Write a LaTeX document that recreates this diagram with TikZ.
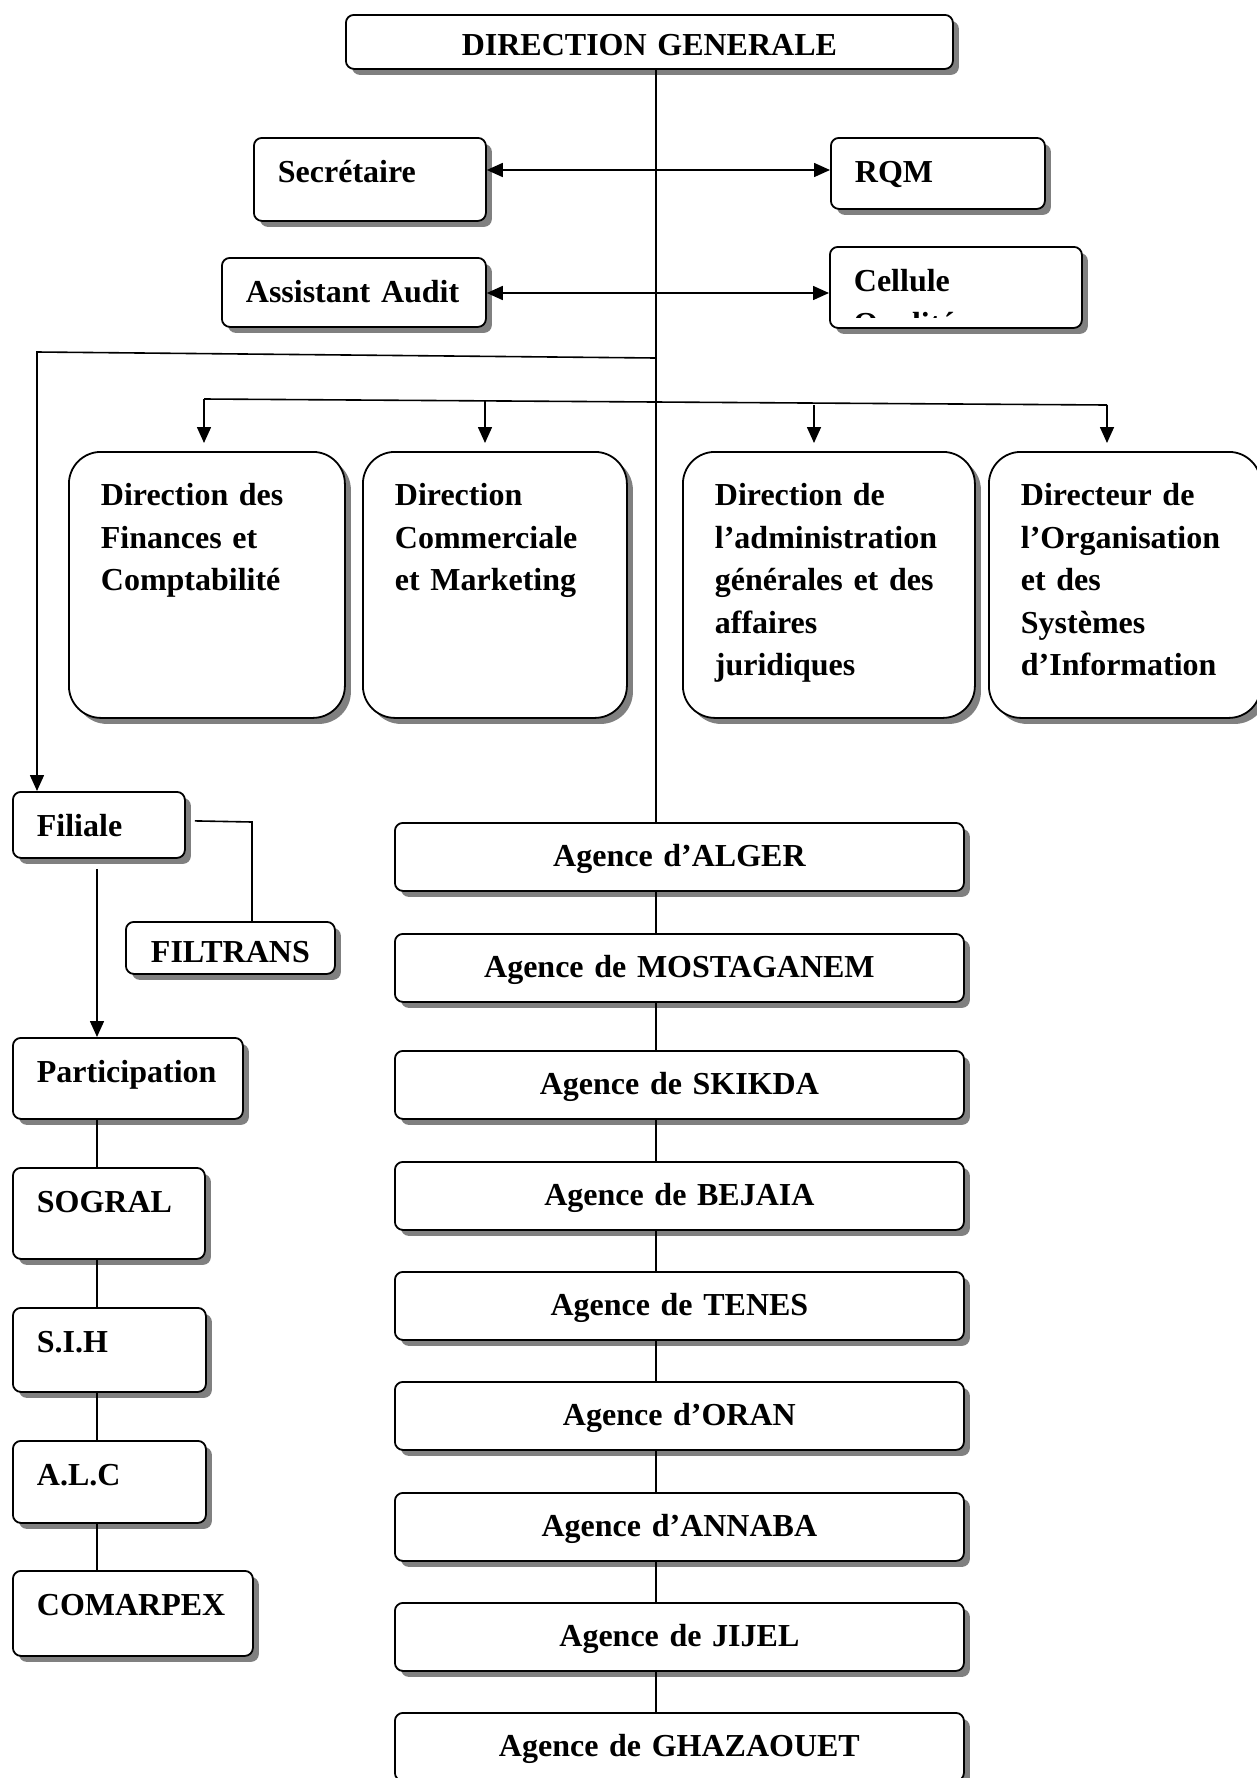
\documentclass[tikz,border=0pt]{standalone}
\usepackage{fontspec}
\setmainfont{Liberation Serif}
\usepackage{tikz}
\usetikzlibrary{arrows.meta, shadows}
\definecolor{ShadowGrey}{HTML}{808080}

\begin{document}
\begin{tikzpicture}[
        x=0.5pt, y=-0.5pt,
        orgbox/.style={draw, line width=0.9pt, rounded corners=4pt, fill=white, anchor=north west, font=\fontsize{16pt}{21.25pt}\selectfont\bfseries, align=left, inner xsep=12pt, inner ysep=0pt, text height=22.5pt, drop shadow={shadow xshift=3pt, shadow yshift=-3pt, fill=ShadowGrey, opacity=1}},
        titlebox/.style={orgbox, align=center, inner xsep=6pt, text height=20.5pt},
        agencebox/.style={titlebox, text width=272.5pt, text height=22pt, text depth=12pt},
        dirbox/.style={orgbox, rounded corners=16pt, inner xsep=16pt, text height=27pt, text depth=106pt},
        link/.style={line width=0.8pt},
        arr/.style={link, -{Triangle[length=8pt, width=7pt]}},
        biarr/.style={link, {Triangle[length=8pt, width=7pt]}-{Triangle[length=8pt, width=7pt]}}
    ]

    \useasboundingbox (0,0) rectangle (1257,1778);

    % direction
    \node[titlebox, text width=291.5pt, text depth=6.5pt] (dg) at (345,14) {DIRECTION GENERALE};

    \node[orgbox, text width=92pt, text depth=19pt] (sec) at (253,137) {Secrétaire};
    \node[orgbox, text width=83pt, text depth=13pt] (rqm) at (830,137) {RQM};
    \node[orgbox, text width=108pt, text depth=12pt] (aud) at (221,257) {Assistant Audit};
    \node[orgbox, text width=102pt, text depth=18pt] (cel) at (829,246) {Cellule};
    \begin{scope}
        \clip (cel.north west) rectangle ([yshift=5.5pt]cel.south east);
        \node[font=\fontsize{16pt}{21.25pt}\selectfont\bfseries, anchor=base west, inner sep=0pt] (celq) at ([xshift=12pt, yshift=-21.25pt]cel.base west) {Qualité};
    \end{scope}

    % directions
    \node[dirbox, text width=106pt] (fin) at (68,451) {Direction des\\Finances et\\Comptabilité};
    \node[dirbox, text width=100pt] (mkt) at (362,451) {Direction\\Commerciale\\et Marketing};
    \node[dirbox, text width=114pt] (adm) at (682,451) {Direction de\\l’administration\\générales et des\\affaires\\juridiques};
    \node[dirbox, text width=104pt] (org) at (988,451) {Directeur de\\l’Organisation\\et des\\Systèmes\\d’Information};

    % filiales et participations
    \node[orgbox, text width=62pt, text depth=10.5pt] (fil) at (12,791) {Filiale};
    \node[titlebox, text width=92.5pt, text depth=5.5pt] (ftr) at (125,921) {FILTRANS};
    \node[orgbox, text width=91pt, text depth=18pt] (par) at (12,1037) {Participation};
    \node[orgbox, text width=72pt, text depth=23pt] (sog) at (12,1167) {SOGRAL};
    \node[orgbox, text width=72.5pt, text depth=19.5pt] (sih) at (12,1307) {S.I.H};
    \node[orgbox, text width=72.5pt, text depth=18.5pt] (alc) at (12,1440) {A.L.C};
    \node[orgbox, text width=96pt, text depth=20pt] (cpx) at (12,1570) {COMARPEX};

    % agences
    \foreach \nm/\ytop/\txt in {alger/822/Agence d’ALGER, mosta/933/Agence de MOSTAGANEM, skikda/1050/Agence de SKIKDA, bejaia/1161/Agence de BEJAIA, tenes/1271/Agence de TENES, oran/1381/Agence d’ORAN, annaba/1492/Agence d’ANNABA, jijel/1602/Agence de JIJEL, ghaz/1712/Agence de GHAZAOUET}
        \node[agencebox] (\nm) at (394,\ytop) {\txt};

    % liaisons
    \coordinate (trunk) at (656,0);
    \coordinate (lcol) at (97,0);
    \draw[link] (trunk |- dg.south) -- (trunk |- alger.north);
    \foreach \a/\b in {alger/mosta, mosta/skikda, skikda/bejaia, bejaia/tenes, tenes/oran, oran/annaba, annaba/jijel, jijel/ghaz}
        \draw[link] (trunk |- \a.south) -- (trunk |- \b.north);

    \coordinate (secrow) at (656,170);
    \coordinate (audrow) at (656,293);
    \draw[biarr] (sec.east |- secrow) -- (rqm.west |- secrow);
    \draw[biarr] (aud.east |- audrow) -- (cel.west |- audrow);

    \coordinate (feed) at (656,358);
    \coordinate (feedcorner) at (37,352);
    \draw[arr] (feed) -- (feedcorner) -- (feedcorner |- fil.north);

    \coordinate (barL) at (204,399);
    \coordinate (barR) at (1107,405);
    \draw[link] (barL) -- (barR);
    \foreach \bx/\by/\dir in {204/399/fin, 485/401/mkt, 814/405/adm, 1107/405/org} {
        \coordinate (tip) at (\bx,\by);
        \draw[arr, shorten >=4pt] (tip) -- (tip |- \dir.north);
    }

    \coordinate (ftrknee) at (252,822);
    \draw[link] ([xshift=4.5pt, yshift=2pt]fil.east) -- (ftrknee) -- (ftrknee |- ftr.north);
    \draw[arr, shorten <=5pt] (lcol |- fil.south) -- (lcol |- par.north);
    \foreach \a/\b in {par/sog, sog/sih, sih/alc, alc/cpx}
        \draw[link] (lcol |- \a.south) -- (lcol |- \b.north);

\end{tikzpicture}
\end{document}
